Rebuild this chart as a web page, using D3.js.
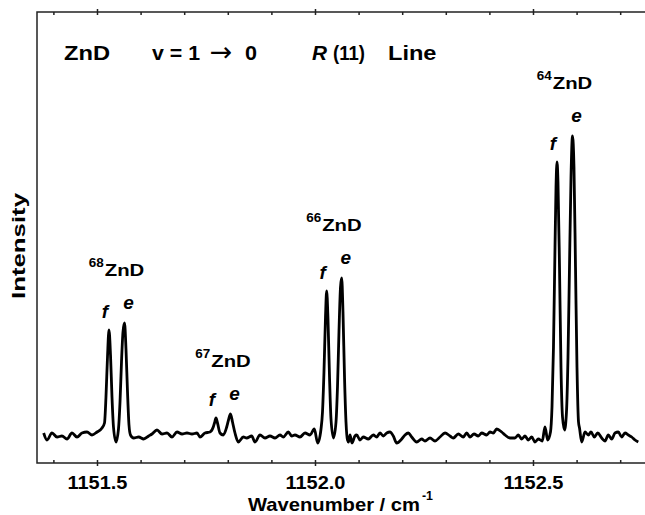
<!doctype html>
<html lang="en">
<head>
<meta charset="UTF-8">
<title>ZnD R(11) line</title>
<style>
  body { margin: 0; background: #fff; }
  svg text { font-family: "Liberation Sans", Arial, sans-serif; font-weight: bold; fill: #000; }
</style>
</head>
<body>
<div id="chart"></div>
<script src="https://d3js.org/d3.v7.min.js"></script>
<script>
// spectrum trace (wavenumber in cm-1, intensity in arbitrary units)
const wavenumber = [
  1151.3777, 1151.3853, 1151.3968, 1151.4083, 1151.4197, 1151.4312, 1151.4427, 1151.4541,
  1151.4656, 1151.4771, 1151.4885, 1151.5000, 1151.5115, 1151.5172, 1151.5206, 1151.5241,
  1151.5275, 1151.5310, 1151.5344, 1151.5378, 1151.5436, 1151.5493, 1151.5528, 1151.5562,
  1151.5596, 1151.5631, 1151.5665, 1151.5700, 1151.5734, 1151.5768, 1151.5842, 1151.5956,
  1151.6071, 1151.6186, 1151.6261, 1151.6376, 1151.6491, 1151.6606, 1151.6720, 1151.6835,
  1151.6950, 1151.7064, 1151.7179, 1151.7294, 1151.7362, 1151.7477, 1151.7592, 1151.7667,
  1151.7695, 1151.7729, 1151.7764, 1151.7821, 1151.7897, 1151.7975, 1151.8016, 1151.8062,
  1151.8108, 1151.8165, 1151.8241, 1151.8356, 1151.8433, 1151.8548, 1151.8624, 1151.8739,
  1151.8853, 1151.8968, 1151.9083, 1151.9197, 1151.9273, 1151.9388, 1151.9466, 1151.9541,
  1151.9656, 1151.9771, 1151.9885, 1151.9984, 1152.0062, 1152.0138, 1152.0172, 1152.0206,
  1152.0241, 1152.0268, 1152.0298, 1152.0333, 1152.0367, 1152.0424, 1152.0482, 1152.0516,
  1152.0550, 1152.0585, 1152.0612, 1152.0642, 1152.0677, 1152.0711, 1152.0745, 1152.0768,
  1152.0803, 1152.0849, 1152.0917, 1152.0957, 1152.1032, 1152.1108, 1152.1223, 1152.1337,
  1152.1415, 1152.1491, 1152.1567, 1152.1645, 1152.1720, 1152.1796, 1152.1874, 1152.1989,
  1152.2064, 1152.2140, 1152.2218, 1152.2333, 1152.2447, 1152.2523, 1152.2638, 1152.2752,
  1152.2867, 1152.2982, 1152.3096, 1152.3172, 1152.3287, 1152.3401, 1152.3479, 1152.3555,
  1152.3647, 1152.3746, 1152.3824, 1152.3938, 1152.4014, 1152.4090, 1152.4167, 1152.4282,
  1152.4358, 1152.4473, 1152.4587, 1152.4663, 1152.4741, 1152.4817, 1152.4892, 1152.4970,
  1152.5046, 1152.5122, 1152.5213, 1152.5275, 1152.5337, 1152.5401, 1152.5436, 1152.5470,
  1152.5505, 1152.5528, 1152.5551, 1152.5573, 1152.5608, 1152.5642, 1152.5677, 1152.5723,
  1152.5768, 1152.5803, 1152.5837, 1152.5872, 1152.5906, 1152.5940, 1152.5975, 1152.6009,
  1152.6044, 1152.6067, 1152.6117, 1152.6193, 1152.6269, 1152.6330, 1152.6406, 1152.6484,
  1152.6576, 1152.6651, 1152.6727, 1152.6805, 1152.6881, 1152.6956, 1152.7034, 1152.7110,
  1152.7186, 1152.7264, 1152.7339, 1152.7415
]
const intensity = [
  4, -3, 4, 0, 1, -2, 4, 0,
  4, 5, 2, 5, 9, 14, 40, 80,
  107, 82, 40, 10, -5, 8, 35, 75,
  105, 114, 88, 45, 12, 2, -1, 0,
  -2, 1, 3, 7, 3, 4, 0, 5,
  3, 4, 3, 4, 0, 4, 5, 10,
  14, 19, 14, 4, 2, 10, 17, 23,
  15, 4, -5, 0, -1, 1, -5, 2,
  -1, 1, -1, 2, 0, 5, 1, 2,
  0, 4, 2, 8, -6, 8, 25, 65,
  120, 146, 118, 60, 18, -1, 15, 50,
  105, 150, 159, 125, 60, 15, -3, -5,
  2, -6, 1, 2, -3, 0, -2, 2,
  0, 4, 1, 4, 5, 1, -6, -2,
  2, 4, 0, -5, -2, -4, -1, -4,
  0, 4, 1, -1, 3, 0, 4, 0,
  3, 1, 4, 2, 5, 4, 8, 5,
  2, -1, -1, 2, -2, 1, -3, 0,
  -5, -2, -4, 10, -3, 5, 30, 90,
  190, 250, 275, 255, 170, 70, 20, 7,
  25, 80, 170, 260, 301, 270, 170, 70,
  15, 9, -5, 5, 2, 5, 0, 4,
  -1, -4, 2, -2, 4, 5, 0, 4,
  2, 0, -3, -5
]

// isotopologue peaks (f and e components)
const isotopes = ['68', '67', '66', '64']
const fPeak = [1151.5275, 1151.7729, 1152.0268, 1152.5551]
const ePeak = [1151.5631, 1151.8062, 1152.0612, 1152.5906]
const fHeight = [107, 19, 146, 275]
const eHeight = [114, 23, 159, 301]

const majorTicks = [1151.5, 1152.0, 1152.5]
const minorTicks = [1151.4, 1151.6, 1151.7, 1151.8, 1151.9, 1152.1, 1152.2, 1152.3, 1152.4, 1152.6, 1152.7]

const width = 645, height = 515
const plot = { left: 37, right: 660, top: 12, bottom: 463 }

const svg = d3.select('#chart').append('svg')
    .attr('width', width)
    .attr('height', height)

const x = d3.scaleLinear()
    .domain([1151.3624, 1152.7913])
    .range([plot.left, plot.right])
const y = d3.scaleLinear()
    .domain([-26, 425])
    .range([plot.bottom, plot.top])

// text of a given size squeezed/stretched to a given width (the original font runs wide)
function label(parent, px, py, str, size, len, anchor) {
    return parent.append('text')
        .attr('x', px)
        .attr('y', py)
        .attr('text-anchor', anchor || 'start')
        .attr('textLength', len)
        .attr('lengthAdjust', 'spacingAndGlyphs')
        .style('font-size', size + 'px')
        .text(str)
}

// frame + ticks (bottom and top), minor ticks inward, major ticks crossing
function drawAxis(gen, ypos, inward) {
    const gMinor = svg.append('g')
        .attr('transform', 'translate(0,' + ypos + ')')
        .call(gen(x).tickValues(minorTicks).tickSize(inward * 3).tickFormat(''))
    const gMajor = svg.append('g')
        .attr('transform', 'translate(0,' + ypos + ')')
        .call(gen(x).tickValues(majorTicks).tickSize(3).tickFormat(d3.format('.1f')))
    gMajor.selectAll('.tick line').attr('y1', -3).attr('y2', 3)
    ;[gMinor, gMajor].forEach(g => {
        g.select('.domain').remove()
        g.selectAll('.tick line').attr('stroke', '#222').attr('stroke-width', 1.5)
    })
    return gMajor
}

const bottomAxis = drawAxis(d3.axisBottom, plot.bottom, -1)
bottomAxis.selectAll('.tick text')
    .attr('y', 26).attr('dy', 0)
    .attr('textLength', 60)
    .attr('lengthAdjust', 'spacingAndGlyphs')
    .style('font-size', '19px')
const topAxis = drawAxis(d3.axisTop, plot.top, -1)
topAxis.selectAll('.tick text').remove()

svg.append('path')
    .attr('d', 'M' + plot.right + ',' + plot.top + 'H' + plot.left + 'V' + plot.bottom + 'H' + plot.right)
    .attr('fill', 'none')
    .attr('stroke', '#222')
    .attr('stroke-width', 1.5)

// spectrum
const line = d3.line()
    .x((d, i) => x(wavenumber[i]))
    .y(d => y(d))
    .curve(d3.curveMonotoneX)

svg.append('path')
    .datum(intensity)
    .attr('d', line)
    .attr('fill', 'none')
    .attr('stroke', '#000')
    .attr('stroke-width', 2.8)
    .attr('stroke-linejoin', 'round')

// peak labels
isotopes.forEach((m, i) => {
    svg.append('text')
        .attr('x', x(fPeak[i]) - 4)
        .attr('y', y(fHeight[i]) - 12)
        .attr('text-anchor', 'middle')
        .style('font-size', '19px')
        .style('font-style', 'italic')
        .text('f')
    svg.append('text')
        .attr('x', x(ePeak[i]) + 4)
        .attr('y', y(eHeight[i]) - 14)
        .attr('text-anchor', 'middle')
        .style('font-size', '19px')
        .style('font-style', 'italic')
        .text('e')
    const cx = (x(fPeak[i]) + x(ePeak[i])) / 2 - 1
    const base = y(eHeight[i]) - 47
    label(svg, cx - 27, base - 9, m, 13, 15)
    label(svg, cx - 11, base, 'ZnD', 17, 39.5)
})

// header
const header = svg.append('g')
label(header, 64, 60, 'ZnD', 19.5, 46)
label(header, 152, 60, 'v = 1', 19.5, 48)
header.append('text')
    .attr('x', 221)
    .attr('y', 61)
    .attr('text-anchor', 'middle')
    .style('font-family', '"DejaVu Sans", sans-serif')
    .style('font-weight', 'normal')
    .style('font-size', '27px')
    .text('\u2192')
label(header, 245, 60, '0', 19.5, 12)
label(header, 312, 60, 'R', 19.5, 15).style('font-style', 'italic')
label(header, 333, 60, '(11)', 19.5, 32)
label(header, 388, 60, 'Line', 19.5, 48.5)

// axis titles
label(svg, 248, 511, 'Wavenumber / cm', 19, 172)
label(svg, 422, 500, '-1', 12, 11)

svg.append('text')
    .attr('transform', 'translate(25,246) rotate(-90)')
    .attr('text-anchor', 'middle')
    .attr('textLength', 106)
    .attr('lengthAdjust', 'spacingAndGlyphs')
    .style('font-size', '19px')
    .text('Intensity')
</script>
</body>
</html>
